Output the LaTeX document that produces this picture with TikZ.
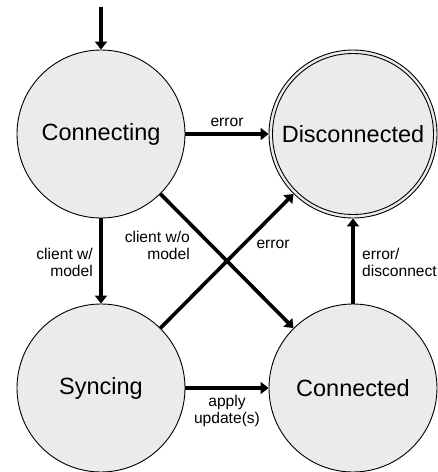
\documentclass[tikz,border=0pt]{standalone}
\usepackage{fontspec}
\setmainfont{Liberation Sans}
\usetikzlibrary{arrows.meta}
\definecolor{stfill}{HTML}{EBEBEB}
\tikzset{
  state/.style={circle, draw=black, line width=0.9pt, fill=stfill, minimum size=168pt, inner sep=0pt,
    font=\fontsize{23.5}{26}\selectfont},
  trans/.style={line width=3.6pt, -{Triangle[length=8pt,width=12pt]}},
  lbl/.style={font=\fontsize{15.6}{17}\selectfont, inner sep=0pt}
}
\begin{document}
\begin{tikzpicture}[x=1pt,y=-1pt]
\useasboundingbox (0,0) rectangle (438,472);
\node[state] (Connecting) at (101,134) {Connecting};
\node[state] (Disconnected) at (353,134) {Disconnected};
\draw[line width=0.9pt] (Disconnected.center) circle (80.5);
\node[state] (Syncing) at (101,388) {Syncing};
\node[state] (Connected) at (353,388) {Connected};
\coordinate (start) at (101,7);
\draw[trans] (start) -- (Connecting);
\draw[trans] (Connecting) -- (Disconnected);
\draw[trans] (Connecting) -- (Syncing);
\draw[trans] (Connecting) -- (Connected);
\draw[trans] (Syncing) -- (Disconnected);
\draw[trans] (Connected) -- (Disconnected);
\draw[trans] (Syncing) -- (Connected);
\node[lbl] (l1) at (227,122) {error};
\node[lbl, align=right, anchor=east] (l2) at (93,262) {client w/\\model};
\node[lbl, align=right, anchor=east] (l3) at (190,245) {client w/o\\model};
\node[lbl] (l4) at (273,244) {error};
\node[lbl, align=left, anchor=west] (l5) at (362,262) {error/\\disconnect};
\node[lbl, align=center] (l6) at (227,411) {apply\\update(s)};
\end{tikzpicture}
\end{document}
